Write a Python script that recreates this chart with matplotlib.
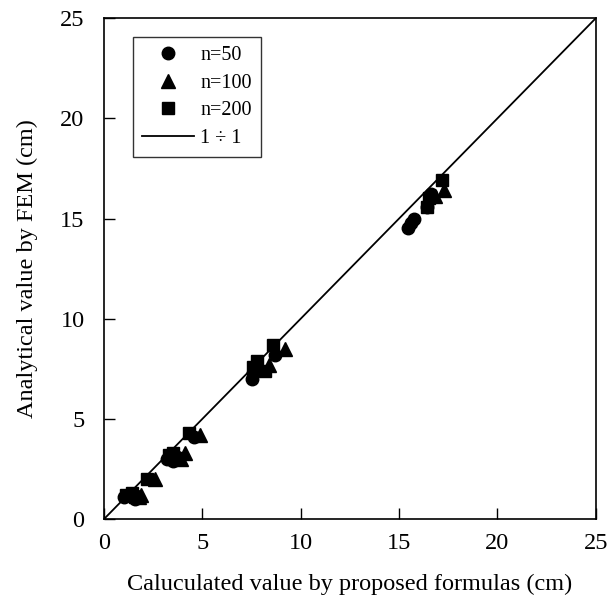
import numpy as np
import matplotlib.pyplot as plt

plt.rcParams['font.family'] = ['Liberation Serif', 'DejaVu Serif']

# calculated (x) vs FEM (y) values, cm
n50_x = [1.0, 1.2, 1.5, 1.6, 3.2, 3.5, 3.7, 4.6, 7.5, 7.6, 7.8, 8.7, 15.45, 15.6, 15.75, 16.4, 16.6]
n50_y = [1.1, 1.2, 1.1, 1.0, 3.0, 2.9, 3.1, 4.1, 7.0, 7.3, 7.6, 8.2, 14.55, 14.8, 15.0, 15.6, 16.2]
n100_x = [1.8, 1.9, 2.6, 3.9, 4.1, 4.9, 7.9, 8.4, 9.2, 16.8, 17.3]
n100_y = [1.1, 1.2, 2.0, 3.0, 3.3, 4.2, 7.6, 7.7, 8.5, 16.1, 16.4]
n200_x = [1.1, 1.4, 1.6, 2.2, 3.3, 3.5, 4.3, 7.6, 7.8, 8.2, 8.6, 16.4, 16.5, 17.2]
n200_y = [1.2, 1.3, 1.1, 2.0, 3.2, 3.3, 4.3, 7.6, 7.9, 7.4, 8.7, 15.6, 16.0, 16.9]
ticks = [0, 5, 10, 15, 20, 25]

fig = plt.figure(figsize=(6.08, 6.05), dpi=100)
ax = fig.add_axes([0.171, 0.142, 0.809, 0.828])

ms = 9
ax.plot(n50_x, n50_y, 'o', color='black', ms=ms, label='n=50')
ax.plot(n100_x, n100_y, '^', color='black', ms=ms + 1, label='n=100')
ax.plot(n200_x, n200_y, 's', color='black', ms=ms - 1, label='n=200')
ax.plot([0, 25], [0, 25], '-', color='black', lw=1.3, label='1 ÷ 1')

ax.set_xlim(0, 25)
ax.set_ylim(0, 25)
ax.set_xticks(ticks)
ax.set_yticks(ticks)
ax.tick_params(direction='in', length=8, width=1, labelsize=17.5)
ax.tick_params(axis='y', pad=14)
ax.tick_params(axis='x', pad=10)
for s in ax.spines.values():
    s.set_linewidth(1.2)

ax.set_xlabel('Caluculated value by proposed formulas (cm)', fontsize=17.5, labelpad=14)
ax.set_ylabel('Analytical value by FEM (cm)', fontsize=17.5, labelpad=16)

leg = ax.legend(loc='upper left', bbox_to_anchor=(0.059, 0.962), fontsize=14.5,
                frameon=True, fancybox=False, edgecolor='black', borderaxespad=0,
                handlelength=2.6, handletextpad=0.3, borderpad=0.45, labelspacing=0.42)
leg.get_frame().set_linewidth(1.0)

fig.savefig('out.png', dpi=100)
